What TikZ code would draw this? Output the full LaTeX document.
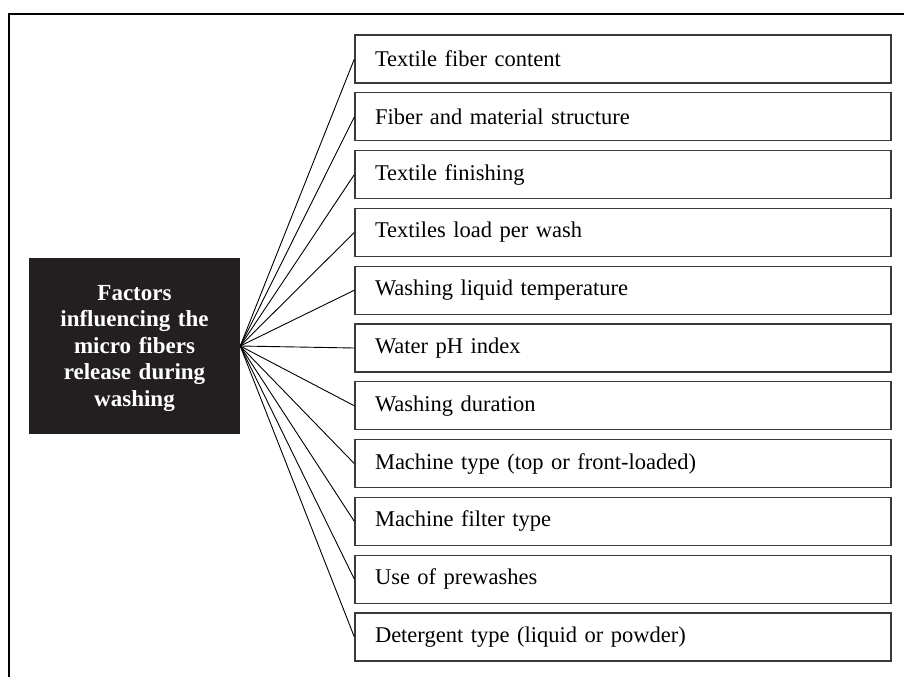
\documentclass[tikz,border=0pt]{standalone}
\usepackage{fontspec}
\setmainfont{Liberation Serif}
\usepackage{tikz}
\usetikzlibrary{positioning}
\definecolor{darkbox}{HTML}{231F20}
\definecolor{edge}{HTML}{3A3A3A}

\begin{document}
\begin{tikzpicture}[auto, node distance=57.8pt,
	f/.style={draw=edge, line width=1.3pt, minimum height=48pt, text width=496pt, inner xsep=20pt, align=left, font=\fontsize{22.5}{26}\selectfont},
	hub/.style={fill=darkbox, text=white, minimum width=211pt, minimum height=176pt, text width=200pt, align=center, inner sep=0pt, font=\fontsize{23}{26.5}\selectfont\bfseries},
	link/.style={line width=0.9pt}]
	\useasboundingbox (0,0) rectangle (904pt,-677pt);
	%frame
	\draw[line width=2pt] (9pt,-677pt) -- (9pt,-14pt) -- (904pt,-14pt);
	%center
	\node(main)[hub] at (134.5pt,-346pt) {\rule{0pt}{20pt}Factors\\influencing the\\micro fibers\\release during\\washing};
	%factors
	\node(f1)[f] at (623pt,-59pt) {Textile fiber content};
	\node(f2)[f,below of= f1]{Fiber and material structure};
	\node(f3)[f,below of= f2]{Textile finishing};
	\node(f4)[f,below of= f3]{Textiles load per wash};
	\node(f5)[f,below of= f4]{Washing liquid temperature};
	\node(f6)[f,below of= f5]{Water pH index};
	\node(f7)[f,below of= f6]{Washing duration};
	\node(f8)[f,below of= f7]{Machine type (top or front-loaded)};
	\node(f9)[f,below of= f8]{Machine filter type};
	\node(f10)[f,below of= f9]{Use of prewashes};
	\node(f11)[f,below of= f10]{Detergent type (liquid or powder)};
	%links
	\draw[link] (main.east) -- (f1.west);
	\draw[link] (main.east) -- (f2.west);
	\draw[link] (main.east) -- (f3.west);
	\draw[link] (main.east) -- (f4.west);
	\draw[link] (main.east) -- (f5.west);
	\draw[link] (main.east) -- (f6.west);
	\draw[link] (main.east) -- (f7.west);
	\draw[link] (main.east) -- (f8.west);
	\draw[link] (main.east) -- (f9.west);
	\draw[link] (main.east) -- (f10.west);
	\draw[link] (main.east) -- (f11.west);
\end{tikzpicture}
\end{document}
